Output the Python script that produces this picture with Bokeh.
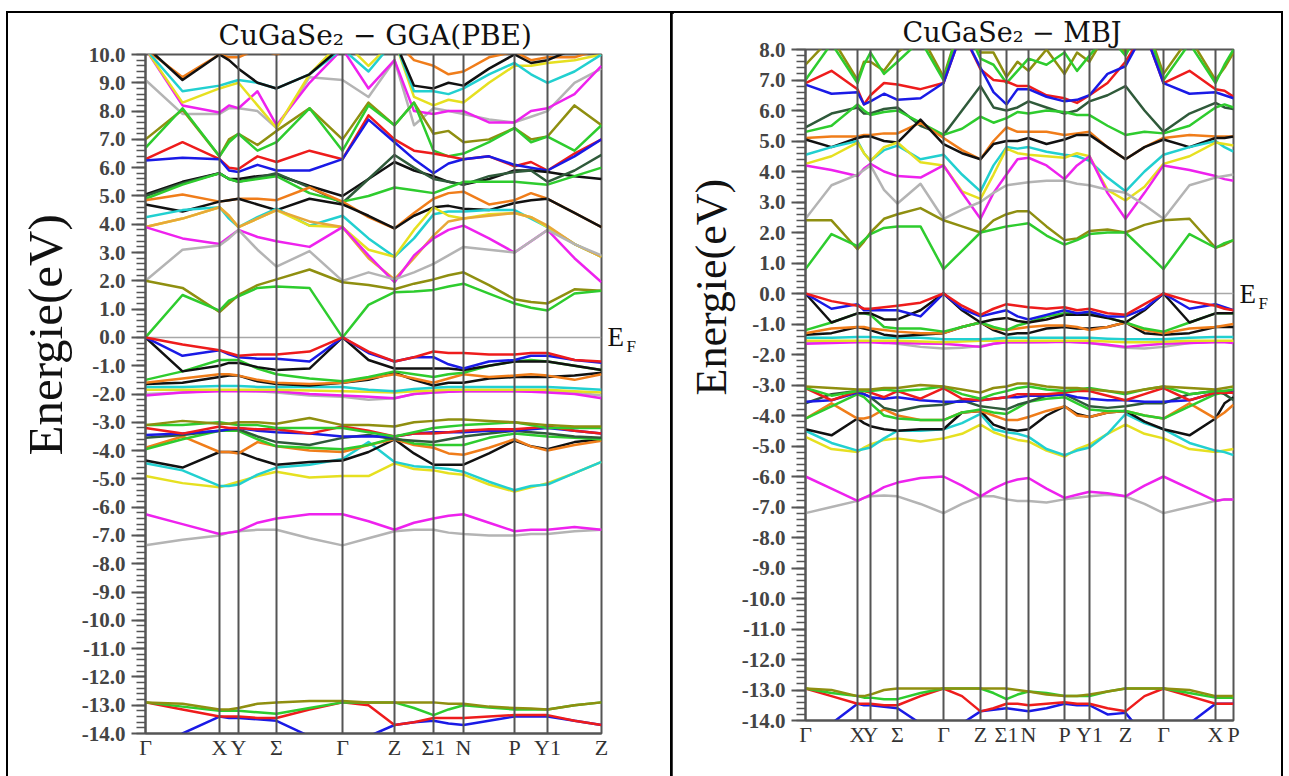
from bokeh.plotting import figure
from bokeh.models import (Range1d, FixedTicker, LinearAxis, Span, Title,
                          NumeralTickFormatter, CustomJSTickFormatter)
from bokeh.embed import file_html
from bokeh.resources import INLINE

# ---------------- colours ----------------
RED = "#ee1c1c"; BLUE = "#1a1ae6"; BLACK = "#111111"; GREEN = "#2ecc2e"
OLIVE = "#8f8f10"; ORANGE = "#f07d1a"; CYAN = "#22d0d0"; YELLOW = "#e6e020"
MAGENTA = "#ee22ee"; GRAY = "#b4b4b4"; DKGREEN = "#2f5a3a"; AMBER = "#e8a838"

# ---------------- GGA(PBE) panel ----------------
gga_title = "CuGaSe\u2082 \u2212 GGA(PBE)"
gga_labels = ["\u0393", "X", "Y", "\u03a3", "\u0393", "Z", "\u03a31", "N", "P", "Y1", "Z"]
gga_kpts = [0, 74, 93, 131, 197, 249, 288, 318, 369, 402, 456]
gga_ymin, gga_ymax = -14, 10

# energies at high-symmetry points and segment mid-points (21 samples)
g_c_green1 = [0.0, 1.5, 0.95, 1.3, 1.45, 1.75, 1.8, 1.75, 0.0, 1.15, 1.6, 1.62, 1.68, 1.8, 1.9, 1.55, 1.2, 1.05, 0.95, 1.55, 1.65]
g_c_olive1 = [2.0, 1.75, 0.9, 1.2, 1.5, 1.85, 2.05, 2.4, 1.95, 1.85, 1.7, 1.9, 2.05, 2.2, 2.3, 1.85, 1.35, 1.25, 1.2, 1.7, 1.65]
g_c_gray1 = [2.0, 3.1, 3.25, 3.5, 3.8, 3.1, 2.5, 3.05, 2.0, 2.3, 2.05, 2.3, 2.6, 2.9, 3.2, 3.1, 3.0, 3.4, 3.8, 3.3, 2.9]
g_c_magenta1 = [3.9, 3.5, 3.3, 3.55, 3.8, 3.55, 3.4, 3.2, 3.9, 2.9, 1.95, 2.9, 3.5, 3.8, 3.95, 3.5, 3.0, 3.4, 3.8, 2.8, 1.95]
g_c_amber = [3.9, 4.2, 4.6, 4.3, 3.9, 4.2, 4.5, 4.1, 3.9, 2.8, 2.05, 2.8, 3.6, 4.1, 4.2, 4.3, 4.4, 4.25, 3.95, 3.3, 2.85]
g_c_yellow1 = [3.9, 4.2, 4.6, 4.3, 3.9, 4.2, 4.5, 3.95, 3.9, 3.1, 2.85, 3.8, 4.6, 4.3, 4.2, 4.35, 4.4, 4.25, 3.9, 3.3, 2.85]
g_c_cyan1 = [4.25, 4.5, 4.6, 4.2, 3.9, 4.25, 4.55, 3.95, 4.3, 3.5, 2.85, 3.5, 4.35, 4.45, 4.45, 4.5, 4.5, 4.2, 3.9, 3.3, 2.85]
g_c_orange1 = [4.85, 5.05, 4.8, 4.85, 4.9, 4.9, 4.85, 5.3, 4.8, 4.25, 3.85, 4.4, 4.9, 5.1, 5.15, 4.7, 4.85, 5.1, 4.9, 4.4, 3.9]
g_c_black1 = [4.7, 4.45, 4.8, 4.85, 4.9, 4.7, 4.5, 4.9, 4.7, 4.3, 3.85, 4.3, 4.6, 4.65, 4.55, 4.5, 4.75, 4.85, 4.9, 4.4, 3.9]
g_c_green2 = [4.9, 5.4, 5.8, 5.6, 5.5, 5.6, 5.7, 5.1, 4.8, 5.0, 5.3, 5.2, 5.1, 5.3, 5.5, 5.5, 5.5, 5.45, 5.4, 5.7, 6.0]
g_c_dkgreen = [5.0, 5.45, 5.8, 5.6, 5.5, 5.65, 5.8, 5.3, 4.75, 5.6, 6.45, 6.0, 5.6, 5.5, 5.4, 5.7, 5.85, 5.9, 5.5, 5.9, 6.45]
g_c_black2 = [5.05, 5.5, 5.8, 5.6, 5.6, 5.7, 5.75, 5.35, 5.0, 5.6, 6.2, 5.9, 5.7, 5.5, 5.4, 5.6, 5.9, 5.9, 5.85, 5.7, 5.6]
g_c_blue = [6.25, 6.35, 6.3, 5.9, 5.85, 6.1, 5.9, 5.9, 6.3, 7.7, 6.9, 6.3, 5.8, 6.15, 6.3, 6.4, 6.1, 6.0, 5.9, 6.4, 7.0]
g_c_red = [6.3, 6.9, 6.3, 6.0, 5.95, 6.4, 6.2, 6.6, 6.3, 7.85, 7.0, 6.6, 6.5, 6.4, 6.3, 6.4, 6.05, 6.2, 5.9, 6.5, 7.0]
g_c_green3 = [6.7, 8.1, 6.4, 6.9, 7.2, 6.6, 6.9, 8.1, 6.6, 8.2, 7.5, 8.3, 6.6, 6.4, 6.5, 6.9, 7.4, 6.9, 7.1, 6.6, 7.5]
g_c_olive2 = [7.0, 8.05, 6.4, 7.0, 7.2, 6.8, 7.3, 8.1, 7.0, 8.3, 7.5, 8.3, 7.2, 7.3, 6.9, 7.0, 7.4, 7.0, 7.1, 8.2, 7.5]
g_c_gray2 = [9.1, 7.9, 7.9, 8.1, 8.1, 8.0, 7.4, 9.2, 9.1, 8.5, 9.8, 7.5, 8.1, 8.0, 7.9, 7.7, 7.6, 7.8, 8.0, 9.0, 9.5]
g_c_magenta2 = [10.2, 8.2, 7.95, 8.2, 8.1, 8.7, 7.5, 9.0, 10.2, 8.8, 9.8, 8.0, 7.9, 8.0, 8.0, 7.6, 7.6, 8.0, 8.1, 8.6, 9.6]
g_c_yellow2 = [10.2, 8.3, 8.8, 8.9, 9.0, 8.2, 7.4, 9.3, 10.5, 9.6, 10.5, 8.5, 8.2, 8.4, 8.3, 9.0, 9.6, 9.6, 9.7, 9.8, 10.0]
g_c_cyan2 = [10.2, 8.7, 8.9, 9.0, 9.1, 9.0, 8.8, 9.3, 10.2, 9.4, 10.5, 8.7, 8.7, 8.6, 8.8, 9.3, 9.7, 9.3, 9.0, 9.4, 10.0]
g_c_black3 = [10.3, 9.1, 10.0, 9.8, 9.5, 9.0, 8.8, 9.3, 10.3, 10.3, 10.5, 8.9, 8.8, 9.0, 8.9, 9.5, 10.0, 9.7, 9.8, 10.2, 10.3]
g_c_orange2 = [10.2, 9.2, 10.0, 9.9, 9.9, 10.2, 10.0, 10.5, 10.5, 10.5, 10.5, 9.8, 9.6, 9.3, 9.4, 9.9, 10.1, 9.8, 9.9, 9.9, 10.2]

g_v_red = [0.0, -0.25, -0.45, -0.55, -0.65, -0.6, -0.6, -0.5, 0.0, -0.5, -0.85, -0.7, -0.5, -0.55, -0.55, -0.6, -0.6, -0.55, -0.55, -0.8, -0.85]
g_v_blue = [0.0, -0.65, -0.45, -0.6, -0.7, -0.75, -0.75, -0.85, 0.0, -0.55, -0.85, -0.7, -0.7, -0.95, -1.1, -0.85, -0.8, -0.65, -0.65, -0.8, -0.9]
g_v_black = [0.0, -1.2, -1.0, -0.9, -0.9, -1.05, -1.15, -1.1, 0.0, -0.8, -1.1, -1.1, -1.1, -1.1, -1.15, -1.0, -0.85, -0.85, -0.85, -1.0, -1.15]
g_v_green = [-1.5, -1.2, -0.8, -0.8, -0.8, -1.1, -1.3, -1.45, -1.55, -1.4, -1.2, -1.3, -1.4, -1.3, -1.25, -1.0, -0.85, -0.8, -0.85, -1.0, -1.15]
g_v_orange = [-1.6, -1.45, -1.3, -1.3, -1.35, -1.5, -1.6, -1.65, -1.6, -1.45, -1.3, -1.45, -1.6, -1.45, -1.3, -1.4, -1.35, -1.3, -1.35, -1.5, -1.3]
g_v_black2 = [-1.65, -1.6, -1.4, -1.35, -1.35, -1.55, -1.65, -1.7, -1.6, -1.5, -1.25, -1.5, -1.7, -1.6, -1.6, -1.45, -1.4, -1.4, -1.4, -1.35, -1.25]
g_v_cyan = [-1.75, -1.75, -1.72, -1.72, -1.72, -1.75, -1.75, -1.75, -1.75, -1.85, -1.9, -1.82, -1.78, -1.75, -1.75, -1.75, -1.75, -1.75, -1.75, -1.8, -1.85]
g_v_yellow = [-1.85, -1.85, -1.85, -1.85, -1.85, -1.85, -1.85, -1.88, -1.9, -1.92, -1.95, -1.9, -1.88, -1.85, -1.85, -1.85, -1.85, -1.85, -1.85, -1.9, -1.95]
g_v_magenta = [-2.05, -1.95, -1.9, -1.9, -1.9, -1.9, -1.9, -2.0, -2.05, -2.1, -2.15, -2.0, -1.95, -1.92, -1.9, -1.9, -1.9, -1.92, -1.95, -2.0, -2.15]
g_v_gray = [-2.0, -1.95, -1.88, -1.88, -1.88, -1.9, -1.95, -2.05, -2.1, -2.2, -2.15, -2.0, -1.95, -1.92, -1.9, -1.9, -1.9, -1.9, -1.9, -1.95, -2.05]
g_v_olive = [-3.1, -2.95, -3.05, -3.05, -3.0, -3.0, -3.05, -2.85, -3.1, -3.1, -3.15, -3.0, -2.95, -2.9, -2.9, -2.95, -3.0, -3.05, -3.1, -3.15, -3.15]
g_v_green2 = [-3.1, -3.1, -3.0, -3.05, -3.1, -3.1, -3.2, -3.2, -3.2, -3.35, -3.5, -3.35, -3.2, -3.15, -3.1, -3.05, -3.0, -3.1, -3.2, -3.2, -3.2]
g_v_red2 = [-3.2, -3.4, -3.15, -3.2, -3.2, -3.25, -3.25, -3.4, -3.15, -3.3, -3.5, -3.4, -3.4, -3.35, -3.3, -3.25, -3.25, -3.2, -3.15, -3.3, -3.4]
g_v_blue2 = [-3.45, -3.4, -3.3, -3.25, -3.2, -3.3, -3.35, -3.4, -3.5, -3.5, -3.5, -3.4, -3.35, -3.35, -3.35, -3.3, -3.3, -3.25, -3.2, -3.3, -3.4]
g_v_dkgreen = [-3.55, -3.45, -3.3, -3.25, -3.25, -3.5, -3.7, -3.8, -3.55, -3.45, -3.6, -3.65, -3.7, -3.6, -3.5, -3.4, -3.3, -3.35, -3.4, -3.5, -3.55]
g_v_green3 = [-3.95, -3.6, -3.3, -3.3, -3.3, -3.6, -3.85, -3.9, -3.95, -3.8, -3.55, -3.75, -3.8, -3.8, -3.8, -3.55, -3.4, -3.45, -3.5, -3.55, -3.6]
g_v_orange2 = [-3.9, -3.5, -4.05, -4.05, -4.1, -3.7, -3.85, -4.0, -4.05, -3.8, -3.6, -3.8, -3.9, -4.1, -4.15, -3.9, -3.6, -3.85, -4.0, -3.8, -3.65]
g_v_black3 = [-4.35, -4.6, -4.05, -4.05, -4.05, -4.3, -4.5, -4.4, -4.35, -4.05, -3.6, -4.1, -4.5, -4.5, -4.5, -4.1, -3.65, -3.85, -3.95, -3.7, -3.6]
g_v_cyan2 = [-4.45, -4.7, -5.25, -5.25, -5.2, -4.85, -4.6, -4.5, -4.3, -3.7, -4.4, -4.55, -4.6, -4.65, -4.75, -5.1, -5.4, -5.25, -5.2, -4.8, -4.4]
g_v_yellow2 = [-4.9, -5.15, -5.3, -5.2, -5.1, -4.9, -4.75, -4.95, -4.9, -4.9, -4.45, -4.65, -4.7, -4.8, -4.85, -5.2, -5.45, -5.3, -5.15, -4.8, -4.4]
g_v_magenta2 = [-6.25, -6.6, -6.95, -6.9, -6.85, -6.55, -6.4, -6.25, -6.25, -6.5, -6.8, -6.55, -6.4, -6.3, -6.25, -6.55, -6.85, -6.8, -6.8, -6.7, -6.8]
g_v_gray2 = [-7.35, -7.15, -7.0, -6.9, -6.85, -6.8, -6.8, -7.1, -7.35, -7.1, -6.85, -6.8, -6.8, -6.9, -6.95, -7.0, -7.0, -6.95, -6.95, -6.85, -6.8]
g_d_olive = [-12.9, -12.95, -13.15, -13.15, -13.1, -12.95, -12.9, -12.85, -12.85, -12.9, -12.9, -12.9, -12.9, -12.95, -12.95, -13.05, -13.1, -13.12, -13.15, -13.0, -12.9]
g_d_green = [-12.9, -13.05, -13.2, -13.2, -13.2, -13.25, -13.3, -13.1, -12.9, -12.9, -12.9, -13.1, -13.35, -13.15, -13.0, -13.08, -13.15, -13.15, -13.15, -13.0, -12.9]
g_d_red = [-12.9, -13.15, -13.4, -13.4, -13.4, -13.45, -13.45, -13.15, -12.9, -13.0, -13.7, -13.6, -13.45, -13.45, -13.45, -13.4, -13.35, -13.35, -13.35, -13.55, -13.7]
g_d_blue = [-15.2, -14.0, -13.4, -13.45, -13.45, -13.5, -13.55, -14.1, -15.2, -14.1, -13.7, -13.6, -13.55, -13.65, -13.7, -13.55, -13.4, -13.4, -13.4, -13.55, -13.7]

gga_bands = [
    (g_c_gray2, GRAY), (g_c_magenta2, MAGENTA), (g_c_yellow2, YELLOW), (g_c_cyan2, CYAN),
    (g_c_orange2, ORANGE), (g_c_black3, BLACK), (g_c_olive2, OLIVE), (g_c_green3, GREEN),
    (g_c_red, RED), (g_c_blue, BLUE), (g_c_black2, BLACK), (g_c_dkgreen, DKGREEN),
    (g_c_green2, GREEN), (g_c_orange1, ORANGE), (g_c_black1, BLACK), (g_c_cyan1, CYAN),
    (g_c_yellow1, YELLOW), (g_c_amber, AMBER), (g_c_magenta1, MAGENTA), (g_c_gray1, GRAY),
    (g_c_olive1, OLIVE), (g_c_green1, GREEN),
    (g_v_gray, GRAY), (g_v_magenta, MAGENTA), (g_v_yellow, YELLOW), (g_v_cyan, CYAN),
    (g_v_black2, BLACK), (g_v_orange, ORANGE), (g_v_green, GREEN), (g_v_black, BLACK),
    (g_v_blue, BLUE), (g_v_red, RED),
    (g_v_gray2, GRAY), (g_v_magenta2, MAGENTA), (g_v_yellow2, YELLOW), (g_v_cyan2, CYAN),
    (g_v_black3, BLACK), (g_v_orange2, ORANGE), (g_v_green3, GREEN), (g_v_dkgreen, DKGREEN),
    (g_v_blue2, BLUE), (g_v_red2, RED), (g_v_green2, GREEN), (g_v_olive, OLIVE),
    (g_d_blue, BLUE), (g_d_red, RED), (g_d_green, GREEN), (g_d_olive, OLIVE),
]

# ---------------- MBJ panel ----------------
mbj_title = "CuGaSe\u2082 \u2212 MBJ"
mbj_labels = ["\u0393", "X", "Y", "\u03a3", "\u0393", "Z", "\u03a31", "N", "P", "Y1", "Z", "\u0393", "X", "P"]
mbj_kpts = [0, 52, 65, 92, 138, 175, 201, 223, 259, 284, 320, 358, 410, 428]
mbj_ymin, mbj_ymax = -14, 8

# energies at high-symmetry points and segment mid-points (27 samples)
m_c_green1 = [0.8, 1.95, 1.55, 1.75, 1.95, 2.15, 2.2, 2.2, 0.8, 1.4, 2.0, 2.1, 2.2, 2.25, 2.3, 1.9, 1.6, 1.75, 1.95, 2.0, 2.0, 1.4, 0.8, 1.95, 1.5, 1.65, 1.75]
m_c_olive1 = [2.4, 2.4, 1.45, 1.7, 2.0, 2.45, 2.6, 2.8, 2.4, 2.2, 2.0, 2.4, 2.6, 2.7, 2.7, 2.2, 1.75, 1.8, 2.05, 2.1, 2.0, 2.25, 2.4, 2.45, 1.5, 1.6, 1.75]
m_c_gray1 = [2.45, 3.55, 3.9, 4.05, 4.2, 3.4, 2.95, 3.6, 2.45, 2.75, 3.0, 3.3, 3.55, 3.6, 3.65, 3.7, 3.7, 3.6, 3.55, 3.4, 3.3, 2.9, 2.45, 3.55, 3.8, 3.85, 3.9]
m_c_magenta1 = [4.2, 4.05, 3.85, 4.1, 4.25, 4.0, 3.85, 3.8, 4.2, 3.3, 2.45, 3.3, 3.9, 4.4, 4.45, 4.2, 3.75, 4.2, 4.5, 3.3, 2.45, 3.3, 4.2, 4.05, 3.85, 3.75, 3.7]
m_c_yellow1 = [4.25, 4.5, 4.95, 4.6, 4.35, 4.8, 4.95, 4.3, 4.2, 3.35, 3.1, 3.9, 4.75, 4.6, 4.55, 4.5, 4.45, 4.6, 4.5, 3.4, 3.05, 3.5, 4.25, 4.5, 4.95, 4.9, 4.85]
m_c_cyan1 = [4.55, 4.8, 5.0, 4.6, 4.35, 4.7, 4.85, 4.4, 4.55, 3.9, 3.35, 4.2, 4.8, 4.75, 4.8, 4.65, 4.55, 4.5, 4.35, 3.8, 3.35, 4.0, 4.55, 4.8, 5.0, 4.8, 4.65]
m_c_orange1 = [5.1, 5.15, 5.15, 5.2, 5.2, 5.25, 5.25, 5.6, 5.1, 4.7, 4.4, 5.0, 5.45, 5.3, 5.3, 5.3, 5.2, 5.25, 5.3, 4.8, 4.4, 4.8, 5.1, 5.2, 5.15, 5.15, 5.15]
m_c_black1 = [5.05, 4.8, 5.1, 5.15, 5.15, 5.0, 4.95, 5.7, 4.9, 4.6, 4.4, 4.9, 5.0, 5.0, 5.1, 4.9, 5.05, 5.2, 5.2, 4.8, 4.4, 4.8, 5.05, 4.8, 5.1, 5.1, 5.15]
m_c_green2 = [5.3, 5.5, 6.2, 6.0, 5.85, 5.95, 6.0, 5.6, 5.2, 5.4, 5.8, 5.6, 5.75, 5.95, 5.9, 6.0, 5.95, 5.85, 5.85, 5.5, 5.2, 5.3, 5.25, 5.5, 6.1, 6.2, 6.1]
m_c_dkgreen = [5.45, 5.9, 6.1, 5.9, 5.9, 6.05, 6.1, 5.5, 5.2, 6.0, 6.8, 6.1, 6.0, 6.1, 6.3, 6.1, 5.9, 6.0, 6.3, 6.5, 6.8, 6.0, 5.3, 5.9, 6.25, 6.1, 6.05]
m_c_blue = [6.85, 6.55, 6.6, 6.2, 6.3, 6.55, 6.35, 6.4, 6.9, 8.6, 7.4, 6.6, 6.2, 6.7, 6.7, 6.45, 6.3, 6.35, 6.5, 7.2, 7.45, 8.6, 6.9, 6.55, 6.6, 6.5, 6.4]
m_c_red = [6.9, 7.3, 6.7, 6.2, 6.5, 6.9, 6.85, 6.7, 6.9, 8.6, 7.35, 7.0, 6.95, 6.8, 6.8, 6.5, 6.4, 6.25, 6.5, 6.9, 7.6, 8.6, 6.9, 7.3, 6.7, 6.65, 6.45]
m_c_green3 = [7.0, 8.2, 6.9, 7.5, 7.9, 7.2, 7.6, 8.3, 7.0, 9.0, 7.7, 7.5, 6.9, 7.3, 7.7, 7.5, 7.9, 7.3, 7.8, 8.5, 7.8, 9.0, 7.0, 8.2, 6.9, 7.5, 8.0]
m_c_olive2 = [7.5, 8.4, 7.0, 7.6, 7.6, 7.3, 7.9, 8.5, 7.1, 9.0, 7.9, 7.9, 7.1, 7.6, 7.3, 8.0, 7.2, 7.9, 7.6, 8.6, 7.9, 9.0, 7.2, 8.4, 7.0, 7.4, 7.9]

m_v_red = [0.0, -0.25, -0.4, -0.5, -0.5, -0.45, -0.4, -0.3, 0.0, -0.4, -0.7, -0.5, -0.35, -0.4, -0.45, -0.5, -0.45, -0.55, -0.5, -0.65, -0.7, -0.35, 0.0, -0.25, -0.4, -0.5, -0.55]
m_v_blue = [0.0, -0.5, -0.35, -0.55, -0.55, -0.55, -0.55, -0.75, 0.0, -0.5, -0.75, -0.65, -0.55, -0.75, -0.85, -0.7, -0.55, -0.65, -0.6, -0.75, -0.75, -0.5, 0.0, -0.5, -0.35, -0.45, -0.55]
m_v_black = [0.0, -0.95, -0.65, -0.65, -0.65, -0.85, -0.85, -0.55, 0.0, -0.55, -0.95, -0.85, -0.8, -0.9, -0.95, -0.85, -0.7, -0.7, -0.7, -0.8, -0.95, -0.55, 0.0, -0.95, -0.65, -0.65, -0.65]
m_v_green = [-1.2, -0.95, -0.65, -0.65, -0.7, -1.1, -1.15, -1.15, -1.25, -1.1, -0.95, -1.1, -1.2, -1.05, -0.95, -0.75, -0.65, -0.65, -0.65, -0.8, -0.95, -1.15, -1.25, -0.95, -0.65, -0.65, -0.65]
m_v_orange = [-1.3, -1.15, -1.1, -1.1, -1.15, -1.2, -1.25, -1.3, -1.3, -1.1, -0.95, -1.15, -1.2, -1.15, -1.1, -1.05, -1.05, -1.1, -1.2, -1.1, -0.95, -1.2, -1.3, -1.15, -1.1, -1.05, -1.0]
m_v_black2 = [-1.35, -1.3, -1.1, -1.15, -1.2, -1.35, -1.4, -1.35, -1.3, -1.1, -0.95, -1.2, -1.35, -1.3, -1.3, -1.15, -1.1, -1.15, -1.15, -1.1, -0.95, -1.3, -1.35, -1.3, -1.1, -1.1, -1.1]
m_v_cyan = [-1.45, -1.45, -1.43, -1.43, -1.43, -1.45, -1.45, -1.45, -1.5, -1.5, -1.5, -1.48, -1.45, -1.45, -1.45, -1.45, -1.45, -1.45, -1.45, -1.48, -1.5, -1.5, -1.5, -1.45, -1.43, -1.43, -1.43]
m_v_yellow = [-1.55, -1.55, -1.55, -1.55, -1.55, -1.55, -1.55, -1.57, -1.6, -1.57, -1.55, -1.55, -1.55, -1.55, -1.55, -1.55, -1.55, -1.55, -1.55, -1.57, -1.6, -1.6, -1.58, -1.55, -1.55, -1.55, -1.55]
m_v_magenta = [-1.65, -1.62, -1.6, -1.6, -1.6, -1.62, -1.62, -1.64, -1.65, -1.7, -1.75, -1.65, -1.6, -1.6, -1.6, -1.6, -1.58, -1.6, -1.62, -1.68, -1.75, -1.7, -1.65, -1.62, -1.6, -1.6, -1.62]
m_v_gray = [-1.6, -1.58, -1.57, -1.57, -1.57, -1.6, -1.65, -1.75, -1.8, -1.78, -1.72, -1.65, -1.6, -1.6, -1.6, -1.58, -1.57, -1.6, -1.62, -1.7, -1.78, -1.8, -1.75, -1.62, -1.57, -1.57, -1.57]
m_v_olive = [-3.05, -3.1, -3.15, -3.15, -3.15, -3.1, -3.1, -3.0, -3.05, -3.15, -3.25, -3.1, -3.05, -2.95, -2.95, -3.05, -3.1, -3.1, -3.15, -3.2, -3.25, -3.15, -3.05, -3.1, -3.15, -3.1, -3.05]
m_v_green2 = [-3.1, -3.35, -3.2, -3.2, -3.2, -3.15, -3.2, -3.15, -3.05, -3.3, -3.45, -3.3, -3.2, -3.1, -3.05, -3.15, -3.2, -3.15, -3.1, -3.2, -3.3, -3.15, -3.05, -3.3, -3.2, -3.2, -3.15]
m_v_red2 = [-3.1, -3.5, -3.2, -3.2, -3.25, -3.4, -3.2, -3.45, -3.1, -3.45, -3.5, -3.45, -3.4, -3.3, -3.3, -3.3, -3.25, -3.2, -3.2, -3.35, -3.5, -3.3, -3.1, -3.5, -3.25, -3.25, -3.25]
m_v_blue2 = [-3.55, -3.5, -3.25, -3.3, -3.4, -3.45, -3.4, -3.5, -3.55, -3.55, -3.5, -3.45, -3.4, -3.4, -3.35, -3.35, -3.3, -3.4, -3.45, -3.5, -3.5, -3.55, -3.55, -3.5, -3.25, -3.2, -3.2]
m_v_dkgreen = [-3.6, -3.3, -3.2, -3.3, -3.4, -3.75, -3.85, -3.7, -3.65, -3.5, -3.7, -3.75, -3.8, -3.65, -3.55, -3.35, -3.3, -3.5, -3.7, -3.75, -3.7, -3.6, -3.6, -3.3, -3.2, -3.3, -3.5]
m_v_green3 = [-4.1, -3.7, -3.3, -3.4, -3.6, -4.0, -4.1, -4.15, -4.15, -3.9, -3.8, -3.9, -3.95, -3.75, -3.55, -3.45, -3.4, -3.6, -3.8, -3.85, -3.85, -4.0, -4.1, -3.7, -3.3, -3.25, -3.2]
m_v_orange2 = [-4.1, -3.6, -4.1, -4.1, -4.05, -3.8, -4.0, -4.15, -4.15, -3.9, -3.85, -4.0, -4.15, -4.15, -4.05, -3.85, -3.7, -4.0, -4.05, -3.9, -3.85, -4.0, -4.1, -3.6, -4.1, -3.9, -3.65]
m_v_black3 = [-4.45, -4.65, -4.1, -4.25, -4.35, -4.45, -4.5, -4.45, -4.45, -3.9, -3.85, -4.3, -4.45, -4.5, -4.45, -4.0, -3.7, -3.95, -4.05, -3.9, -3.85, -4.2, -4.45, -4.65, -4.1, -3.6, -3.4]
m_v_cyan2 = [-4.5, -4.9, -5.15, -5.1, -5.05, -4.75, -4.5, -4.5, -4.45, -4.25, -3.95, -4.45, -4.55, -4.6, -4.7, -5.1, -5.3, -5.15, -5.05, -4.6, -3.95, -4.25, -4.45, -4.9, -5.15, -5.2, -5.3]
m_v_yellow2 = [-4.7, -5.1, -5.2, -5.05, -4.95, -4.8, -4.75, -4.85, -4.75, -4.6, -4.3, -4.55, -4.7, -4.8, -4.85, -5.15, -5.35, -5.1, -4.95, -4.6, -4.3, -4.6, -4.75, -5.1, -5.2, -5.15, -5.1]
m_v_magenta2 = [-6.0, -6.4, -6.8, -6.7, -6.6, -6.35, -6.2, -6.05, -6.0, -6.3, -6.65, -6.4, -6.2, -6.1, -6.05, -6.4, -6.7, -6.6, -6.5, -6.55, -6.65, -6.3, -6.0, -6.4, -6.8, -6.75, -6.75]
m_v_gray2 = [-7.2, -7.0, -6.8, -6.7, -6.65, -6.62, -6.65, -6.9, -7.2, -6.9, -6.65, -6.65, -6.75, -6.8, -6.8, -6.85, -6.75, -6.7, -6.65, -6.6, -6.65, -6.9, -7.2, -7.0, -6.8, -6.75, -6.75]
m_d_olive = [-12.95, -13.0, -13.2, -13.2, -13.15, -13.0, -12.95, -12.95, -12.95, -12.95, -12.95, -12.95, -12.95, -13.0, -13.05, -13.15, -13.2, -13.2, -13.15, -13.05, -12.95, -12.95, -12.95, -13.0, -13.2, -13.2, -13.2]
m_d_green = [-12.95, -13.1, -13.2, -13.25, -13.25, -13.3, -13.3, -13.1, -12.95, -12.95, -12.95, -13.1, -13.3, -13.15, -13.05, -13.1, -13.2, -13.2, -13.2, -13.05, -12.95, -12.95, -12.95, -13.1, -13.25, -13.25, -13.25]
m_d_red = [-12.95, -13.2, -13.45, -13.45, -13.45, -13.5, -13.5, -13.2, -12.95, -13.2, -13.7, -13.6, -13.45, -13.45, -13.5, -13.45, -13.4, -13.45, -13.45, -13.6, -13.7, -13.2, -12.95, -13.2, -13.45, -13.45, -13.45]
m_d_blue = [-15.2, -14.1, -13.45, -13.5, -13.5, -13.55, -13.6, -14.1, -15.2, -14.1, -13.7, -13.65, -13.6, -13.65, -13.7, -13.6, -13.45, -13.5, -13.5, -13.8, -13.75, -14.5, -15.2, -14.1, -13.45, -13.45, -13.45]

mbj_bands = [
    (m_c_olive2, OLIVE), (m_c_green3, GREEN), (m_c_red, RED), (m_c_blue, BLUE),
    (m_c_dkgreen, DKGREEN), (m_c_green2, GREEN), (m_c_orange1, ORANGE), (m_c_black1, BLACK),
    (m_c_cyan1, CYAN), (m_c_yellow1, YELLOW), (m_c_magenta1, MAGENTA), (m_c_gray1, GRAY),
    (m_c_olive1, OLIVE), (m_c_green1, GREEN),
    (m_v_gray, GRAY), (m_v_magenta, MAGENTA), (m_v_yellow, YELLOW), (m_v_cyan, CYAN),
    (m_v_black2, BLACK), (m_v_orange, ORANGE), (m_v_green, GREEN), (m_v_black, BLACK),
    (m_v_blue, BLUE), (m_v_red, RED),
    (m_v_gray2, GRAY), (m_v_magenta2, MAGENTA), (m_v_yellow2, YELLOW), (m_v_cyan2, CYAN),
    (m_v_black3, BLACK), (m_v_orange2, ORANGE), (m_v_green3, GREEN), (m_v_dkgreen, DKGREEN),
    (m_v_blue2, BLUE), (m_v_red2, RED), (m_v_green2, GREEN), (m_v_olive, OLIVE),
    (m_d_blue, BLUE), (m_d_red, RED), (m_d_green, GREEN), (m_d_olive, OLIVE),
]


def k_samples(kpts):
    out = []
    for a, b in zip(kpts[:-1], kpts[1:]):
        out += [a, (a + b) / 2.0]
    out.append(kpts[-1])
    return out


def build_panel(title_text, kpts, klabels, ylo, yhi, bands, width, height,
                borders, left, top, title_size, title_offset, title_standoff,
                ylab_size, ylab_offset, ylab_standoff, ylab_valign):
    bl, br, bt, bb = borders
    p = figure(width=width, height=height,
               x_range=Range1d(kpts[0], kpts[-1]), y_range=Range1d(ylo, yhi),
               output_backend="svg", toolbar_location=None,
               min_border_left=bl, min_border_right=br,
               min_border_top=bt, min_border_bottom=bb)
    p.styles = {"position": "absolute", "left": "%dpx" % left, "top": "%dpx" % top,
                "outline": "2px solid #000000", "outline-offset": "0px"}
    p.background_fill_color = "white"
    p.border_fill_color = "white"
    p.xgrid.visible = False
    p.ygrid.visible = False
    p.outline_line_color = "#555555"
    p.outline_line_width = 2

    p.title.text = title_text
    p.title.align = "left"
    p.title.offset = title_offset
    p.title.text_font = "DejaVu Serif"
    p.title.text_font_size = title_size
    p.title.text_font_style = "normal"
    p.title.text_color = "#111111"
    if "standoff" in p.title.properties():
        p.title.standoff = title_standoff

    yax = p.yaxis[0]
    yax.ticker = FixedTicker(ticks=list(range(ylo, yhi + 1)),
                             minor_ticks=[ylo + 0.2 * i for i in range((yhi - ylo) * 5 + 1)])
    yax.formatter = NumeralTickFormatter(format="0.0")
    yax.axis_line_color = "#555555"
    yax.axis_line_width = 2
    yax.major_tick_line_color = "#555555"
    yax.minor_tick_line_color = "#555555"
    yax.major_tick_line_width = 2
    yax.minor_tick_line_width = 1.5
    yax.major_tick_out = 14
    yax.major_tick_in = 0
    yax.minor_tick_out = 9
    yax.minor_tick_in = 0
    yax.major_label_text_font = "Liberation Serif"
    yax.major_label_text_font_size = "21px"
    yax.major_label_text_font_style = "bold"
    yax.major_label_text_color = "#444444"
    yax.major_label_standoff = 6

    xax = p.xaxis[0]
    xax.ticker = FixedTicker(ticks=kpts, minor_ticks=[])
    xax.major_label_overrides = {k: lab for k, lab in zip(kpts, klabels)}
    xax.axis_line_color = "#555555"
    xax.axis_line_width = 2
    xax.major_tick_out = 0
    xax.major_tick_in = 0
    xax.minor_tick_out = 0
    xax.minor_tick_in = 0
    xax.major_label_text_font = "Liberation Serif"
    xax.major_label_text_font_size = "22px"
    xax.major_label_text_color = "#333333"
    xax.major_label_standoff = 1

    p.add_layout(Span(location=0, dimension="width", line_color="#a8a8a8",
                      line_width=1.5, level="underlay"))
    for k in kpts[1:-1]:
        p.add_layout(Span(location=k, dimension="height", line_color="#555555",
                          line_width=2))

    xs = k_samples(kpts)
    for vals, color in bands:
        if len(vals) != len(xs):
            raise ValueError("band length mismatch %d vs %d" % (len(vals), len(xs)))
        p.line(xs, vals, line_color=color, line_width=2.5, line_join="round")

    ax_e = LinearAxis(ticker=FixedTicker(ticks=[0], minor_ticks=[]),
                      formatter=CustomJSTickFormatter(code="return 'E'"),
                      axis_line_color=None, major_tick_line_color=None,
                      minor_tick_line_color=None, major_tick_out=0, major_tick_in=0,
                      minor_tick_out=0, minor_tick_in=0,
                      major_label_text_font="Liberation Serif",
                      major_label_text_font_size="27px",
                      major_label_text_color="#111111", major_label_standoff=6)
    p.add_layout(ax_e, "right")
    ax_f = LinearAxis(ticker=FixedTicker(ticks=[-0.32], minor_ticks=[]),
                      formatter=CustomJSTickFormatter(code="return 'F'"),
                      axis_line_color=None, major_tick_line_color=None,
                      minor_tick_line_color=None, major_tick_out=0, major_tick_in=0,
                      minor_tick_out=0, minor_tick_in=0,
                      major_label_text_font="Liberation Serif",
                      major_label_text_font_size="17px",
                      major_label_text_color="#111111", major_label_standoff=0)
    p.add_layout(ax_f, "right")

    yt = Title(text="Energie(eV)", align="left", offset=ylab_offset,
               vertical_align=ylab_valign,
               text_font="Liberation Serif", text_font_size=ylab_size,
               text_font_style="normal", text_color="#111111")
    if "standoff" in yt.properties():
        yt.standoff = ylab_standoff
    p.add_layout(yt, "left")
    return p


p1 = build_panel(gga_title, gga_kpts, gga_labels, gga_ymin, gga_ymax, gga_bands,
                 width=664, height=763, borders=(137, 71, 40, 43), left=8, top=13,
                 title_size="28px", title_offset=73, title_standoff=6,
                 ylab_size="49px", ylab_offset=278, ylab_standoff=8, ylab_valign="top")
p2 = build_panel(mbj_title, mbj_kpts, mbj_labels, mbj_ymin, mbj_ymax, mbj_bands,
                 width=609, height=763, borders=(133, 48, 35, 56), left=672, top=13,
                 title_size="27px", title_offset=97, title_standoff=3,
                 ylab_size="44px", ylab_offset=325, ylab_standoff=6, ylab_valign="bottom")

open("out.html", "w").write(file_html([p1, p2], INLINE))
